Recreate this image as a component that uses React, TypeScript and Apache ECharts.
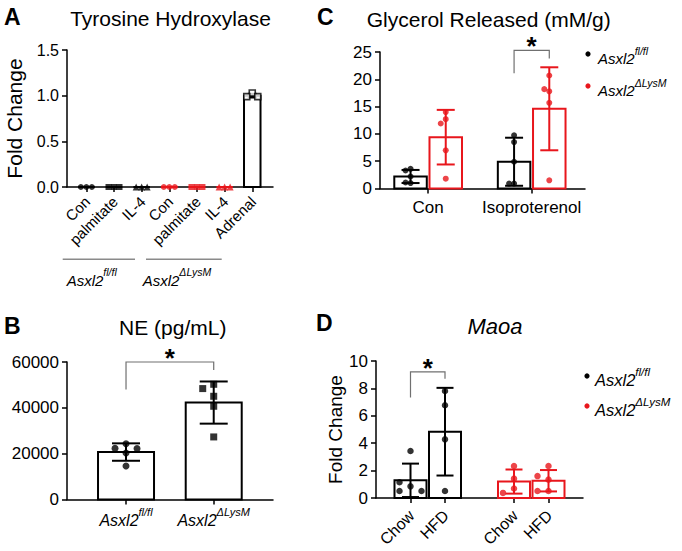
import React, { useEffect, useRef } from 'react';
import * as echarts from 'echarts';

const FONT = "'Liberation Sans', Arial, Helvetica, sans-serif";
const BLACK = '#000000';
const RED = '#e8161c';
const GRAY = '#8a8a8a';

// ---------- Panel A : Tyrosine Hydroxylase ----------
const catsA = ['Con', 'palmitate', 'IL-4', 'Con', 'palmitate', 'IL-4', 'Adrenal'];
const meanA = [0, 0, 0, 0, 0, 0, 1.0];
const sdA = [0, 0, 0, 0, 0, 0, 0.02];
const ptsA = [[0, 0, 0], [0, 0, 0], [0, 0, 0], [0, 0, 0], [0, 0, 0], [0, 0, 0], [1.03, 0.99, 0.99]];
const genoA = ['fl', 'fl', 'fl', 'ko', 'ko', 'ko', 'adrenal'];
const shapeA = ['circle', 'rect', 'triangle', 'circle', 'rect', 'triangle', 'rect'];
const ticksA = [0, 0.5, 1.0, 1.5];

// ---------- Panel B : NE (pg/mL) ----------
const catsB = ['fl', 'ko'];
const meanB = [20700, 42300];
const sdB = [3800, 9200];
const ptsB = [[24300, 22300, 22200, 20300, 14600], [50270, 48400, 45040, 40680, 27300]];
const ticksB = [0, 20000, 40000, 60000];

// ---------- Panel C : Glycerol Released ----------
const catsC = ['Con', 'Isoproterenol'];
const meanCfl = [2.2, 4.9];
const sdCfl = [1.2, 4.4];
const meanCko = [9.4, 14.6];
const sdCko = [5.0, 7.6];
const ptsCfl = [[1.0, 1.1, 2.2, 3.3, 3.6], [9.75, 8.5, 4.9, 0.9, 0.9]];
const ptsCko = [[14.0, 12.7, 11.9, 7.0, 1.8], [20.7, 17.8, 18.2, 15.7, 1.5]];
const ticksC = [0, 5, 10, 15, 20, 25];

// ---------- Panel D : Maoa ----------
const catsD = ['Chow', 'HFD', 'Chow', 'HFD'];
const meanD = [1.29, 4.84, 1.2, 1.26];
const sdD = [1.22, 3.2, 0.88, 0.78];
const ptsD = [[3.43, 0.85, 0.51, 1.15, 0.51], [7.81, 6.77, 4.28, 0.51], [2.34, 1.41, 0.69, 0.37], [2.34, 1.34, 1.6, 0.51, 0.51]];
const genoD = ['fl', 'fl', 'ko', 'ko'];
const ticksD = [0, 2, 4, 6, 8, 10];

// significance brackets: [leftGroup, rightGroup, top, leftEnd, rightEnd]
const sigB = [0, 1, 60000, 48000, 56500];
const sigC = [1, 1, 25.3, 21.1, 23.8]; // group index (Isoproterenol), fl vs ko
const sigD = [0, 1, 9.2, 7.33, 8.71];

const LEG_FL = '{b|Asxl2}{s|fl/fl}';
const LEG_KO = '{b|Asxl2}{s|\u0394LysM}';

function swarm(vals: number[], thr: number): number[] {
  const order = [0, -1, 1, -2, 2, -3, 3];
  const placed: { v: number; s: number }[] = [];
  return vals.map((v) => {
    for (const s of order) {
      if (!placed.some((p) => p.s === s && Math.abs(p.v - v) < thr)) {
        placed.push({ v, s });
        return s;
      }
    }
    return 0;
  });
}

function rich(size: number, sup: number) {
  return {
    b: { fontFamily: FONT, fontStyle: 'italic', fontSize: size, lineHeight: size + 6, verticalAlign: 'bottom', color: BLACK },
    s: { fontFamily: FONT, fontStyle: 'italic', fontSize: sup, lineHeight: sup, verticalAlign: 'top', color: BLACK },
  };
}

function barSeries(grid: number, items: number[][], colors: string[], w: number, cap: number) {
  return {
    type: 'custom',
    xAxisIndex: grid,
    yAxisIndex: grid,
    z: 2,
    data: items,
    renderItem: (_p: any, api: any) => {
      const x = api.value(0);
      const m = api.value(1);
      const sd = api.value(2);
      const color = colors[api.value(3)];
      const top = api.coord([x, m]);
      const base = api.coord([x, 0]);
      const children: any[] = [
        {
          type: 'rect',
          shape: { x: top[0] - w / 2, y: top[1], width: w, height: base[1] - top[1] },
          style: { fill: 'none', stroke: color, lineWidth: 2 },
        },
      ];
      if (sd > 0) {
        const yt = api.coord([x, m + sd])[1];
        const yb = api.coord([x, Math.max(0, m - sd)])[1];
        const ls = { stroke: color, lineWidth: 2 };
        children.push({ type: 'line', shape: { x1: top[0], y1: yt, x2: top[0], y2: yb }, style: ls });
        children.push({ type: 'line', shape: { x1: top[0] - cap / 2, y1: yt, x2: top[0] + cap / 2, y2: yt }, style: ls });
        children.push({ type: 'line', shape: { x1: top[0] - cap / 2, y1: yb, x2: top[0] + cap / 2, y2: yb }, style: ls });
      }
      return { type: 'group', children };
    },
  };
}

function pointSeries(grid: number, groups: { x: number; vals: number[]; color: string; symbol: string; open?: boolean }[], thr: number, sp: number, size: number) {
  const data: any[] = [];
  groups.forEach((g) => {
    const slots = swarm(g.vals, thr);
    g.vals.forEach((v, i) => {
      data.push({
        value: [g.x, v],
        symbol: g.symbol,
        symbolSize: g.symbol === 'triangle' ? size + 1 : size,
        symbolOffset: [slots[i] * sp, 0],
        itemStyle: g.open
          ? { color: '#ffffff', borderColor: g.color, borderWidth: 1.6 }
          : { color: g.color },
      });
    });
  });
  return {
    type: 'scatter',
    xAxisIndex: grid,
    yAxisIndex: grid,
    z: 4,
    clip: false,
    data,
  };
}

function bracketSeries(grid: number, item: number[]) {
  return {
    type: 'custom',
    xAxisIndex: grid,
    yAxisIndex: grid,
    z: 5,
    clip: false,
    data: [item],
    renderItem: (_p: any, api: any) => {
      const x1 = api.value(0), x2 = api.value(1);
      const a = api.coord([x1, api.value(2)]);
      const b = api.coord([x2, api.value(2)]);
      const l = api.coord([x1, api.value(3)]);
      const r = api.coord([x2, api.value(4)]);
      return {
        type: 'group',
        children: [
          { type: 'polyline', shape: { points: [l, a, b, r] }, style: { stroke: '#707070', lineWidth: 1.2, fill: 'none' } },
          {
            type: 'text',
            x: (a[0] + b[0]) / 2,
            y: a[1] - 4,
            style: { text: '*', fontFamily: FONT, fontSize: 26, fontWeight: 'bold', fill: BLACK, align: 'center', verticalAlign: 'middle' },
          },
        ],
      };
    },
  };
}

const axisLine = { show: true, lineStyle: { color: BLACK, width: 1.5 } };
const tick = { show: true, length: 5, lineStyle: { color: BLACK, width: 1.5 } };

function xAxis(grid: number, min: number, max: number, pos: number[], labels: string[], label: any) {
  return {
    type: 'value',
    gridIndex: grid,
    min,
    max,
    axisLine: { ...axisLine, onZero: false },
    axisTick: { ...tick, customValues: pos },
    splitLine: { show: false },
    axisLabel: {
      customValues: pos,
      formatter: (v: number) => {
        const i = pos.findIndex((p) => Math.abs(p - v) < 1e-6);
        return i >= 0 ? labels[i] : '';
      },
      color: BLACK,
      fontFamily: FONT,
      ...label,
    },
  };
}

function yAxis(grid: number, ticks: number[], fontSize: number, fmt: (v: number) => string, name?: string, nameGap?: number, nameSize?: number) {
  const interval = ticks[1] - ticks[0];
  return {
    type: 'value',
    gridIndex: grid,
    min: ticks[0],
    max: ticks[ticks.length - 1],
    interval,
    axisLine: { ...axisLine, onZero: false },
    axisTick: tick,
    splitLine: { show: false },
    axisLabel: { color: BLACK, fontFamily: FONT, fontSize, margin: 8, formatter: fmt },
    name: name || '',
    nameLocation: 'middle',
    nameGap: nameGap || 0,
    nameTextStyle: { color: BLACK, fontFamily: FONT, fontSize: nameSize || 16 },
  };
}

function txt(x: number, y: number, text: string, opts: any = {}) {
  return {
    type: 'text',
    x,
    y,
    style: {
      text,
      fontFamily: FONT,
      fontSize: 21,
      fill: BLACK,
      align: 'center',
      verticalAlign: 'middle',
      ...opts,
    },
  };
}

function legendText(x: number, y: number, text: string, size: number, sup: number) {
  return {
    type: 'text',
    x,
    y,
    style: {
      text,
      rich: rich(size, sup),
      align: 'left',
      verticalAlign: 'middle',
    },
  };
}

export default function App() {
  const ref = useRef<HTMLDivElement>(null);

  useEffect(() => {
    if (!ref.current) return;
    const chart = echarts.init(ref.current, undefined, { renderer: 'svg' });

    const colorOf = (g: string) => (g === 'ko' ? RED : BLACK);
    const palette = [BLACK, RED];

    // positions
    const posA = catsA.map((_, i) => i + 1);
    const posB = [1, 2];
    const OFF = 0.34;
    const posC = [1, 3];
    const posD = [1, 2, 4, 5];

    const barsA = meanA.map((m, i) => [posA[i], m, sdA[i], genoA[i] === 'ko' ? 1 : 0]);
    const barsB = meanB.map((m, i) => [posB[i], m, sdB[i], 0]);
    const barsC: number[][] = [];
    posC.forEach((p, i) => {
      barsC.push([p - OFF, meanCfl[i], sdCfl[i], 0]);
      barsC.push([p + OFF, meanCko[i], sdCko[i], 1]);
    });
    const barsD = meanD.map((m, i) => [posD[i], m, sdD[i], genoD[i] === 'ko' ? 1 : 0]);

    const groupsA = ptsA.map((vals, i) => ({
      x: posA[i],
      vals,
      color: colorOf(genoA[i]),
      symbol: shapeA[i],
      open: genoA[i] === 'adrenal',
    }));
    const groupsB = ptsB.map((vals, i) => ({ x: posB[i], vals, color: BLACK, symbol: i === 0 ? 'circle' : 'rect' }));
    const groupsC: any[] = [];
    posC.forEach((p, i) => {
      groupsC.push({ x: p - OFF, vals: ptsCfl[i], color: BLACK, symbol: 'circle' });
      groupsC.push({ x: p + OFF, vals: ptsCko[i], color: RED, symbol: 'circle' });
    });
    const groupsD = ptsD.map((vals, i) => ({ x: posD[i], vals, color: colorOf(genoD[i]), symbol: 'circle' }));

    const bracketB = [posB[sigB[0]], posB[sigB[1]], sigB[2], sigB[3], sigB[4]];
    const bracketC = [posC[sigC[0]] - OFF, posC[sigC[1]] + OFF, sigC[2], sigC[3], sigC[4]];
    const bracketD = [posD[sigD[0]], posD[sigD[1]], sigD[2], sigD[3], sigD[4]];

    const option: any = {
      animation: false,
      backgroundColor: '#ffffff',
      textStyle: { fontFamily: FONT },
      grid: [
        { left: 67, top: 50, width: 206, height: 137 },
        { left: 67, top: 362, width: 206, height: 137.5 },
        { left: 380, top: 52, width: 205, height: 136.5 },
        { left: 376, top: 361, width: 207, height: 137 },
      ],
      xAxis: [
        xAxis(0, 0.3, 7.75, posA, catsA, { show: false }),
        xAxis(1, 0.327, 2.676, posB, catsB.map((c) => (c === 'fl' ? LEG_FL : LEG_KO)), { margin: 7, rich: rich(16, 11) }),
        xAxis(2, 0.07, 4.03, posC, catsC, { fontSize: 17, margin: 10 }),
        xAxis(3, 0, 6, posD, catsD, { show: false }),
      ],
      yAxis: [
        yAxis(0, ticksA, 16, (v) => v.toFixed(1), 'Fold Change', 42, 21),
        yAxis(1, ticksB, 17, (v) => String(v)),
        yAxis(2, ticksC, 17, (v) => String(v)),
        yAxis(3, ticksD, 17, (v) => String(v), 'Fold Change', 31, 19),
      ],
      series: [
        barSeries(0, barsA, palette, 16.5, 9),
        pointSeries(0, groupsA, 0.066, 5.5, 6),
        barSeries(1, barsB, palette, 56, 28),
        pointSeries(1, groupsB, 3055, 11, 7),
        bracketSeries(1, bracketB),
        barSeries(2, barsC, palette, 32.5, 18),
        pointSeries(2, groupsC, 1.1, 5, 6),
        bracketSeries(2, bracketC),
        barSeries(3, barsD, palette, 32, 17),
        pointSeries(3, groupsD, 0.51, 11, 6.5),
        bracketSeries(3, bracketD),
      ],
    };

    chart.setOption(option);

    // rotated category labels, positioned through the axes' own scales
    const rotLabels = (grid: number, pos: number[], labels: string[], fontSize: number, dx: number, dy: number) =>
      pos.map((p, i) => {
        const pt = chart.convertToPixel({ gridIndex: grid } as any, [p, 0]) as unknown as number[];
        return {
          type: 'text',
          x: pt[0] + dx,
          y: pt[1] + dy,
          rotation: Math.PI / 4,
          style: { text: labels[i], fontFamily: FONT, fontSize, fill: BLACK, align: 'right', verticalAlign: 'middle' },
        };
      });

    const graphics: any[] = [
      // panel letters
      txt(4, 17, 'A', { fontWeight: 'bold', fontSize: 23, align: 'left' }),
      txt(4, 326, 'B', { fontWeight: 'bold', fontSize: 23, align: 'left' }),
      txt(317, 17, 'C', { fontWeight: 'bold', fontSize: 23, align: 'left' }),
      txt(316, 323, 'D', { fontWeight: 'bold', fontSize: 23, align: 'left' }),
      // titles
      txt(170.5, 18, 'Tyrosine Hydroxylase', { fontSize: 21 }),
      txt(172.7, 327, 'NE (pg/mL)', { fontSize: 21 }),
      txt(488.7, 19, 'Glycerol Released (mM/g)', { fontSize: 21 }),
      txt(495, 326, 'Maoa', { fontSize: 22, fontStyle: 'italic' }),
      // panel A genotype groups
      { type: 'line', shape: { x1: 62.7, y1: 259.3, x2: 135, y2: 259.3 }, style: { stroke: GRAY, lineWidth: 1.5 } },
      { type: 'line', shape: { x1: 146, y1: 259.3, x2: 221.7, y2: 259.3 }, style: { stroke: GRAY, lineWidth: 1.5 } },
      legendText(66.7, 277.3, LEG_FL, 15, 10.5),
      legendText(142.7, 277.3, LEG_KO, 15, 10.5),
      // legend C
      { type: 'circle', shape: { cx: 588, cy: 54, r: 2.6 }, style: { fill: BLACK } },
      legendText(598, 55.5, LEG_FL, 15, 10.5),
      { type: 'circle', shape: { cx: 588, cy: 86, r: 2.6 }, style: { fill: RED } },
      legendText(598, 87.5, LEG_KO, 15, 10.5),
      // legend D
      { type: 'circle', shape: { cx: 587, cy: 376, r: 2.6 }, style: { fill: BLACK } },
      legendText(595, 377, LEG_FL, 16.5, 11.5),
      { type: 'circle', shape: { cx: 587, cy: 406, r: 2.6 }, style: { fill: RED } },
      legendText(595, 407, LEG_KO, 16.5, 11.5),
      ...rotLabels(0, posA, catsA, 15, 1, 12),
      ...rotLabels(3, posD, catsD, 16, 1, 15),
    ];

    chart.setOption({ graphic: graphics });
    return () => chart.dispose();
  }, []);

  return (
    <div
      ref={ref}
      style={{ position: 'absolute', left: 0, top: 0, width: 682, height: 551, background: '#fff' }}
    />
  );
}
